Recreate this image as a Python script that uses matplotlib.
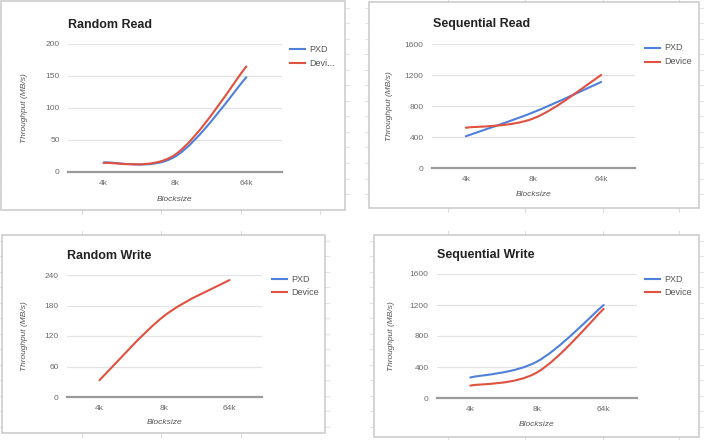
import matplotlib
matplotlib.use('Agg')
import matplotlib.pyplot as plt
from matplotlib.path import Path
from matplotlib.patches import PathPatch, Rectangle
from matplotlib.lines import Line2D

plt.rcParams['font.family'] = ['Liberation Sans', 'DejaVu Sans']

# data
blocksizes = ["4k", "8k", "64k"]

rr_pxd = [15, 24, 148]
rr_dev = [14, 27, 165]

sr_pxd = [410, 720, 1110]
sr_dev = [520, 640, 1200]

rw_pxd = None  # no visible PXD line in the picture
rw_dev = [33, 160, 230]

sw_pxd = [265, 470, 1200]
sw_dev = [160, 330, 1150]

titles = ["Random Read", "Sequential Read", "Random Write", "Sequential Write"]
yticks = [[0, 50, 100, 150, 200], [0, 400, 800, 1200, 1600],
          [0, 60, 120, 180, 240], [0, 400, 800, 1200, 1600]]
series = [(rr_pxd, rr_dev), (sr_pxd, sr_dev), (rw_pxd, rw_dev), (sw_pxd, sw_dev)]
dev_names = ["Devi...", "Device", "Device", "Device"]

W, H = 704, 440
BLUE = "#4f80dc"
RED = "#e0513f"

# pixel layout: box (x0,y0,x1,y1), plot area (x0,ytop,x1,ybottom), title xy, legend x,y1,y2, ylabel x, xlabel y
layout = [
    dict(box=(1, 1, 345, 210), ax=(68, 44, 282, 172), title=(68, 25), leg=(290, 49, 63), yl=25, xl=199),
    dict(box=(369, 2, 699, 208), ax=(432, 44, 635, 168), title=(433, 24), leg=(645, 48, 62), yl=389, xl=194),
    dict(box=(2, 235, 325, 433), ax=(67, 275, 262, 397), title=(67, 256), leg=(272, 279, 292), yl=25, xl=422),
    dict(box=(374, 235, 699, 437), ax=(437, 274, 637, 398), title=(437, 255), leg=(645, 279, 292), yl=392, xl=424),
]

# spreadsheet cell edges peeking out around the charts
cell_x = [82, 161, 241, 320, 448, 525, 603, 679]
cell_y = [k * 15.5 + 8 for k in range(29)]


def fx(px):
    return px / W


def fy(py):
    return 1 - py / H


def smooth_path(xs, ys):
    # catmull-rom style bezier through the points, like the sheets "smooth" option
    pts = list(zip(xs, ys))
    verts = [pts[0]]
    codes = [Path.MOVETO]
    for i in range(len(pts) - 1):
        p0 = pts[i - 1] if i > 0 else pts[i]
        p1 = pts[i]
        p2 = pts[i + 1]
        p3 = pts[i + 2] if i + 2 < len(pts) else pts[i + 1]
        c1 = (p1[0] + (p2[0] - p0[0]) / 6, p1[1] + (p2[1] - p0[1]) / 6)
        c2 = (p2[0] - (p3[0] - p1[0]) / 6, p2[1] - (p3[1] - p1[1]) / 6)
        verts += [c1, c2, p2]
        codes += [Path.CURVE4] * 3
    return Path(verts, codes)


fig = plt.figure(figsize=(7.04, 4.40), dpi=100)

for n in range(4):
    L = layout[n]
    bx0, by0, bx1, by1 = L["box"]
    # little cell ticks just outside the box
    for x in cell_x:
        if bx0 + 5 < x < bx1 - 5:
            for yy in (by0, by1):
                d = -4 if yy == by0 else 4
                fig.add_artist(Line2D([fx(x), fx(x)], [fy(yy), fy(yy + d)], color="#dedede", lw=0.8, zorder=0))
    for y in cell_y:
        if by0 + 5 < y < by1 - 5:
            for xx in (bx0, bx1):
                d = -4 if xx == bx0 else 4
                fig.add_artist(Line2D([fx(xx), fx(xx + d)], [fy(y), fy(y)], color="#e3e3e3", lw=0.8, zorder=0))
    fig.add_artist(Rectangle((fx(bx0), fy(by1)), fx(bx1 - bx0), (by1 - by0) / H,
                             facecolor="white", edgecolor="#c9c9c9", lw=1.1, zorder=1))
    ax0, ay0, ax1, ay1 = L["ax"]
    ax = fig.add_axes([fx(ax0), fy(ay1), fx(ax1 - ax0), (ay1 - ay0) / H], zorder=2)
    ax.set_facecolor("none")
    ax.set_xlim(0, 3)
    ax.set_ylim(yticks[n][0], yticks[n][-1])
    ax.set_yticks(yticks[n])
    ax.set_xticks([0.5, 1.5, 2.5])
    ax.set_xticklabels(blocksizes)
    ax.tick_params(length=0, labelsize=6, colors="#6b6b6b", pad=6)
    for s in ax.spines.values():
        s.set_visible(False)
    ax.grid(axis="y", color="#e3e3e3", lw=0.9)
    ax.axhline(0, color="#9a9a9a", lw=1.6, clip_on=False, zorder=3)
    ax.set_axisbelow(True)

    xs = [0.5, 1.5, 2.5]
    pxd, dev = series[n]
    for vals, col in [(pxd, BLUE), (dev, RED)]:
        if vals is None:
            continue
        ax.add_patch(PathPatch(smooth_path(xs, vals), fill=False, edgecolor=col,
                               lw=1.5, capstyle="round", zorder=4))

    tx, ty = L["title"]
    fig.text(fx(tx), fy(ty), titles[n], fontsize=9, fontweight="bold",
             color="#222222", va="center", ha="left", zorder=5)

    lx, ly1, ly2 = L["leg"]
    for ly, col, name in [(ly1, BLUE, "PXD"), (ly2, RED, dev_names[n])]:
        fig.add_artist(Line2D([fx(lx), fx(lx + 15)], [fy(ly), fy(ly)], color=col, lw=1.5, zorder=5))
        fig.text(fx(lx + 19), fy(ly), name, fontsize=6.5, color="#555555",
                 va="center", ha="left", zorder=5)

    fig.text(fx(L["yl"]), fy((ay0 + ay1) / 2), "Throughput (MB/s)", fontsize=6,
             style="italic", color="#555555", rotation=90, va="center", ha="center", zorder=5)
    fig.text(fx((ax0 + ax1) / 2), fy(L["xl"]), "Blocksize", fontsize=6,
             style="italic", color="#555555", va="center", ha="center", zorder=5)

plt.savefig("out.png", dpi=100)
